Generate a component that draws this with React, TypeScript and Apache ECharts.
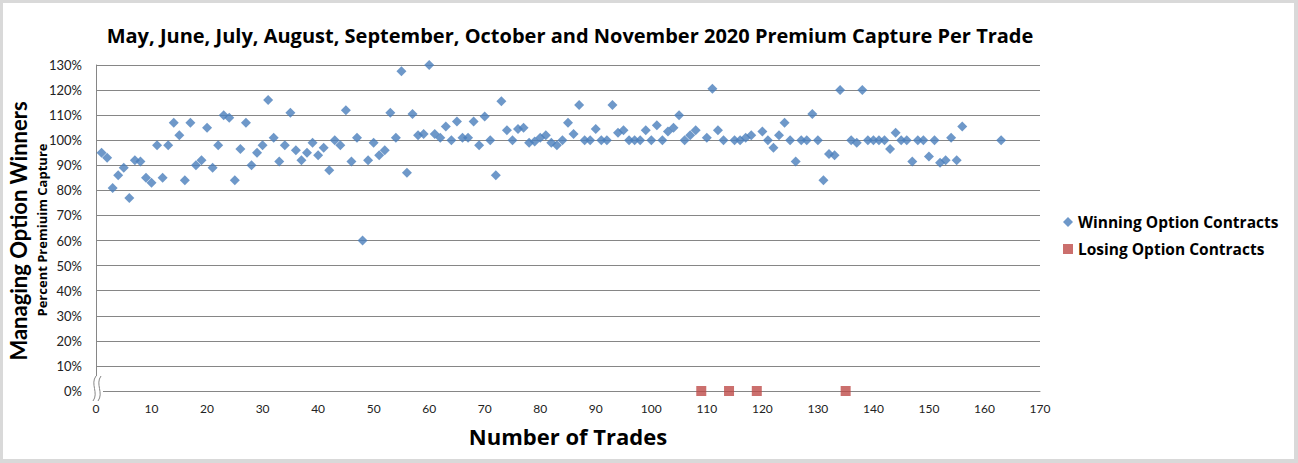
import React, { useEffect, useRef } from "react";
import * as echarts from "echarts";

const chartTitle =
  "May, June, July, August, September, October and November 2020 Premium Capture Per Trade";
const yTitle = "Managing Option Winners";
const ySubTitle = "Percent Premiuim Capture";
const xTitle = "Number of Trades";
const winName = "Winning Option Contracts";
const lossName = "Losing Option Contracts";

const winTrades = [
  1, 2, 3, 4, 5, 6, 7, 8, 9, 10, 11, 12, 13, 14, 15, 16, 17, 18, 19, 20,
  21, 22, 23, 24, 25, 26, 27, 28, 29, 30, 31, 32, 33, 34, 35, 36, 37, 38, 39, 40,
  41, 42, 43, 44, 45, 46, 47, 48, 49, 50, 51, 52, 53, 54, 55, 56, 57, 58, 59, 60,
  61, 62, 63, 64, 65, 66, 67, 68, 69, 70, 71, 72, 73, 74, 75, 76, 77, 78, 79, 80,
  81, 82, 83, 84, 85, 86, 87, 88, 89, 90, 91, 92, 93, 94, 95, 96, 97, 98, 99, 100,
  101, 102, 103, 104, 105, 106, 107, 108, 110, 111, 112, 113, 115, 116, 117, 118, 120,
  121, 122, 123, 124, 125, 126, 127, 128, 129, 130, 131, 132, 133, 134, 136, 137, 138, 139, 140,
  141, 142, 143, 144, 145, 146, 147, 148, 149, 150, 151, 152, 153, 154, 155, 156, 163,
];
const winValues = [
  95, 93, 81, 86, 89, 77, 92, 91.5, 85, 83, 98, 85, 98, 107, 102, 84, 107, 90, 92, 105,
  89, 98, 110, 109, 84, 96.5, 107, 90, 95, 98, 116, 101, 91.5, 98, 111, 96, 92, 95, 99, 94,
  97, 88, 100, 98, 112, 91.5, 101, 60, 92, 99, 94, 96, 111, 101, 127.5, 87, 110.5, 102, 102.5, 130,
  102.5, 101, 105.5, 100, 107.5, 101, 101, 107.5, 98, 109.5, 100, 86, 115.5, 104, 100, 104.5, 105, 99, 99.5, 101,
  102, 99, 98, 100, 107, 102.5, 114, 100, 100, 104.5, 100, 100, 114, 103, 104, 100, 100, 100, 104, 100,
  106, 100, 103.5, 105, 110, 100, 102, 104, 101, 120.5, 104, 100, 100, 100, 101, 102, 103.5,
  100, 97, 102, 107, 100, 91.5, 100, 100, 110.5, 100, 84, 94.5, 94, 120, 100, 99, 120, 100, 100,
  100, 100, 96.5, 103, 100, 100, 91.5, 100, 100, 93.5, 100, 91, 92, 101, 92, 105.5, 100,
];
const lossTrades = [109, 114, 119, 135];
const lossValues = [0, 0, 0, 0];

const FONT = "Lato, 'Open Sans', sans-serif";
const WIDE = "'Open Sans', Lato, sans-serif";

export default function App() {
  const ref = useRef<HTMLDivElement>(null);
  useEffect(() => {
    if (!ref.current) return;
    const chart = echarts.init(ref.current, null, { renderer: "svg" });
    const border = "#d9d9d9";
    chart.setOption({
      animation: false,
      backgroundColor: "#ffffff",
      textStyle: { fontFamily: FONT },
      title: {
        text: chartTitle,
        left: 565,
        textAlign: "center",
        top: 20,
        textStyle: { fontFamily: WIDE, fontWeight: "bold", fontSize: 20, color: "#000" },
      },
      legend: {
        orient: "vertical",
        left: 1058,
        top: 209,
        itemGap: 11,
        itemWidth: 10,
        itemHeight: 10,
        textStyle: { fontFamily: WIDE, fontWeight: "bold", fontSize: 15.5, color: "#000" },
        data: [
          { name: winName, icon: "diamond" },
          { name: lossName, icon: "rect" },
        ],
      },
      grid: { left: 96, right: 258, top: 65, bottom: 72, containLabel: false },
      xAxis: {
        type: "value",
        min: 0,
        max: 170,
        interval: 10,
        name: xTitle,
        nameLocation: "middle",
        nameGap: 34,
        nameTextStyle: { fontFamily: WIDE, fontWeight: "bold", fontSize: 22, color: "#000" },
        axisLine: { show: true, lineStyle: { color: "#868686", width: 1 } },
        axisTick: { show: false },
        splitLine: { show: false },
        axisLabel: { margin: 11, fontSize: 12, color: "#222", fontFamily: FONT },
      },
      yAxis: {
        type: "value",
        min: 0,
        max: 130,
        interval: 10,
        axisLine: { show: true, onZero: false, lineStyle: { color: "#868686", width: 1 } },
        axisTick: { show: false },
        splitLine: { show: true, lineStyle: { color: "#868686", width: 1 } },
        axisLabel: { margin: 14, fontSize: 13, color: "#222", fontFamily: FONT, formatter: "{value}%" },
      },
      series: [
        {
          name: winName,
          type: "scatter",
          symbol: "diamond",
          symbolSize: 10,
          clip: false,
          itemStyle: { color: "#4a7ebb" },
          data: winTrades.map((t, i) => [t, winValues[i]]),
        },
        {
          name: lossName,
          type: "scatter",
          symbol: "rect",
          symbolSize: 10,
          clip: false,
          itemStyle: { color: "#be4b48" },
          data: lossTrades.map((t, i) => [t, lossValues[i]]),
        },
      ],
      graphic: [
        { type: "rect", shape: { x: 0, y: 0, width: 1298, height: 3 }, style: { fill: border }, silent: true },
        { type: "rect", shape: { x: 0, y: 0, width: 3, height: 463 }, style: { fill: border }, silent: true },
        { type: "rect", shape: { x: 1294, y: 0, width: 4, height: 463 }, style: { fill: border }, silent: true },
        { type: "rect", shape: { x: 0, y: 459, width: 1298, height: 4 }, style: { fill: border }, silent: true },
        {
          type: "rect",
          shape: { x: 91, y: 376, width: 12, height: 18 },
          style: { fill: "#ffffff" },
          z: 50,
          silent: true,
        },
        {
          type: "bezierCurve",
          shape: { x1: 96, y1: 376, cpx1: 90, cpy1: 384, cpx2: 99, cpy2: 393, x2: 93, y2: 401 },
          style: { stroke: "#868686", lineWidth: 1, fill: null },
          z: 51,
          silent: true,
        },
        {
          type: "bezierCurve",
          shape: { x1: 101, y1: 376, cpx1: 95, cpy1: 384, cpx2: 104, cpy2: 393, x2: 98, y2: 401 },
          style: { stroke: "#868686", lineWidth: 1, fill: null },
          z: 51,
          silent: true,
        },
        {
          type: "text",
          x: 18,
          y: 231,
          rotation: Math.PI / 2,
          style: {
            text: yTitle,
            fontFamily: FONT,
            fontWeight: "bold",
            fontSize: 22,
            fill: "#000",
            textAlign: "center",
            textVerticalAlign: "middle",
          },
        },
        {
          type: "text",
          x: 42,
          y: 230,
          rotation: Math.PI / 2,
          style: {
            text: ySubTitle,
            fontFamily: WIDE,
            fontWeight: "bold",
            fontSize: 13,
            fill: "#000",
            textAlign: "center",
            textVerticalAlign: "middle",
          },
        },
      ],
    });
    return () => chart.dispose();
  }, []);
  return (
    <div
      ref={ref}
      style={{ position: "absolute", left: 0, top: 0, width: 1298, height: 463 }}
    />
  );
}
